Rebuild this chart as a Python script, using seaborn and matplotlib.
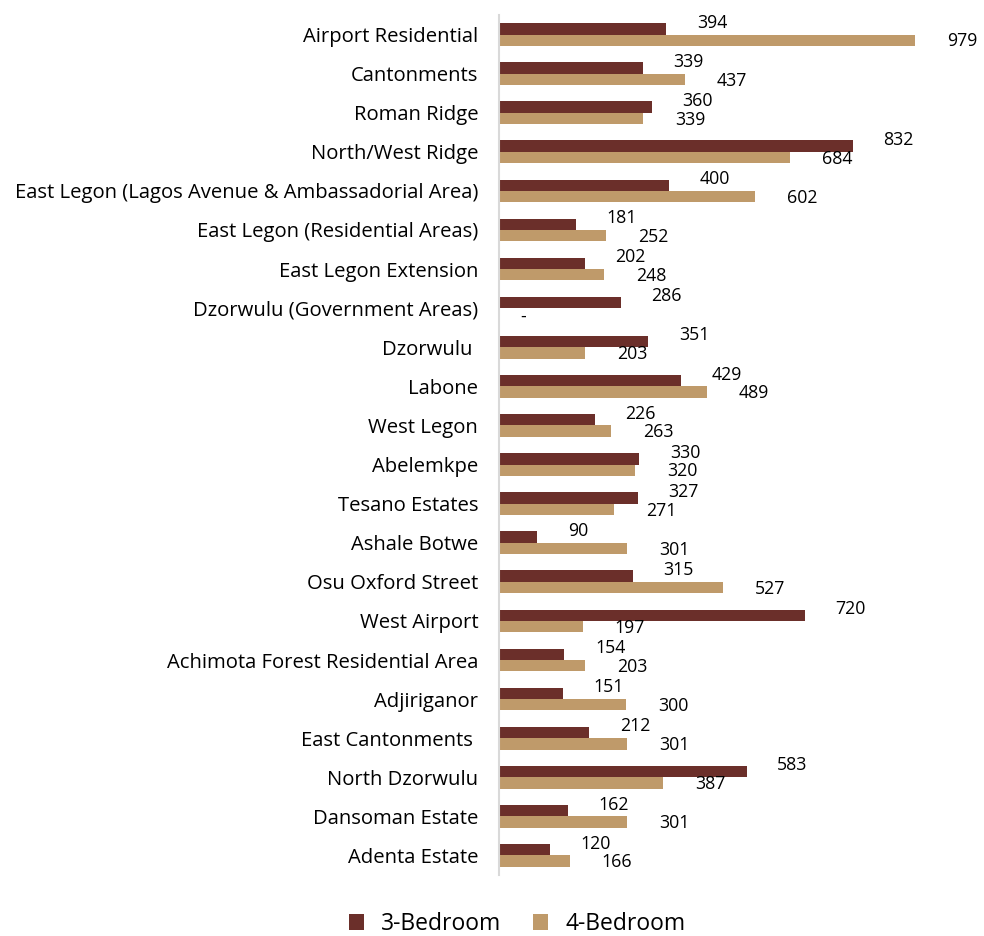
import numpy as np
import pandas as pd
import matplotlib
matplotlib.use("Agg")
import matplotlib.pyplot as plt
from matplotlib.patches import Patch
import seaborn as sns

areas = [
    "Airport Residential", "Cantonments", "Roman Ridge", "North/West Ridge",
    "East Legon (Lagos Avenue & Ambassadorial Area)", "East Legon (Residential Areas)",
    "East Legon Extension", "Dzorwulu (Government Areas)", "Dzorwulu ", "Labone",
    "West Legon", "Abelemkpe", "Tesano Estates", "Ashale Botwe", "Osu Oxford Street",
    "West Airport", "Achimota Forest Residential Area", "Adjiriganor",
    "East Cantonments ", "North Dzorwulu", "Dansoman Estate", "Adenta Estate",
]
three_bed = [394, 339, 360, 832, 400, 181, 202, 286, 351, 429, 226, 330, 327,
             90, 315, 720, 154, 151, 212, 583, 162, 120]
four_bed = [979, 437, 339, 684, 602, 252, 248, np.nan, 203, 489, 263, 320, 271,
            301, 527, 197, 203, 300, 301, 387, 301, 166]
series = ["3-Bedroom", "4-Bedroom"]
colors = ["#6B2F2A", "#BF9A6A"]

df = pd.DataFrame({
    "Area": areas * 2,
    "Rent": three_bed + four_bed,
    "Type": [series[0]] * len(areas) + [series[1]] * len(areas),
})

sns.set_theme(style="white")
plt.rcParams["font.family"] = ["Open Sans", "DejaVu Sans"]

fig = plt.figure(figsize=(9.84, 9.36), dpi=100)
ax = fig.add_axes([499 / 984, 1 - 875 / 936, 461 / 984, 860 / 936])

sns.barplot(data=df, x="Rent", y="Area", hue="Type", palette=colors,
            orient="h", width=0.58, ax=ax, legend=False, saturation=1,
            linewidth=0)

ax.set_xlim(0, 1085)
ax.set_ylim(len(areas) - 0.5, -0.5)
ax.set_xlabel("")
ax.set_ylabel("")
ax.set_xticks([])
ax.tick_params(axis="y", length=0, pad=15, labelsize=14.6, labelcolor="black")
for s in ["top", "right", "bottom"]:
    ax.spines[s].set_visible(False)
ax.spines["left"].set_color("#D9D9D9")
ax.spines["left"].set_linewidth(1.5)

# value labels just past the end of each bar, staggered above / below the pair
lab_kw = dict(textcoords="offset points", ha="left", va="center",
              fontsize=12.8, color="black")
for i, (a, b) in enumerate(zip(three_bed, four_bed)):
    ax.annotate(f"{a}", xy=(a, i), xytext=(22, 8.5), **lab_kw)
    if np.isnan(b):
        ax.annotate("-", xy=(0, i), xytext=(15, -6), **lab_kw)
    else:
        ax.annotate(f"{b}", xy=(b, i), xytext=(23, -5), **lab_kw)

handles = [Patch(facecolor=c, edgecolor="none") for c in colors]
fig.legend(handles, series, loc="center", ncol=2, frameon=False,
           fontsize=16.5, labelcolor="black", borderpad=0.1,
           bbox_to_anchor=(517 / 984, 1 - 924 / 936), handlelength=0.65,
           handleheight=0.65, columnspacing=1.4, handletextpad=0.75)

fig.savefig("out.png", dpi=100)
